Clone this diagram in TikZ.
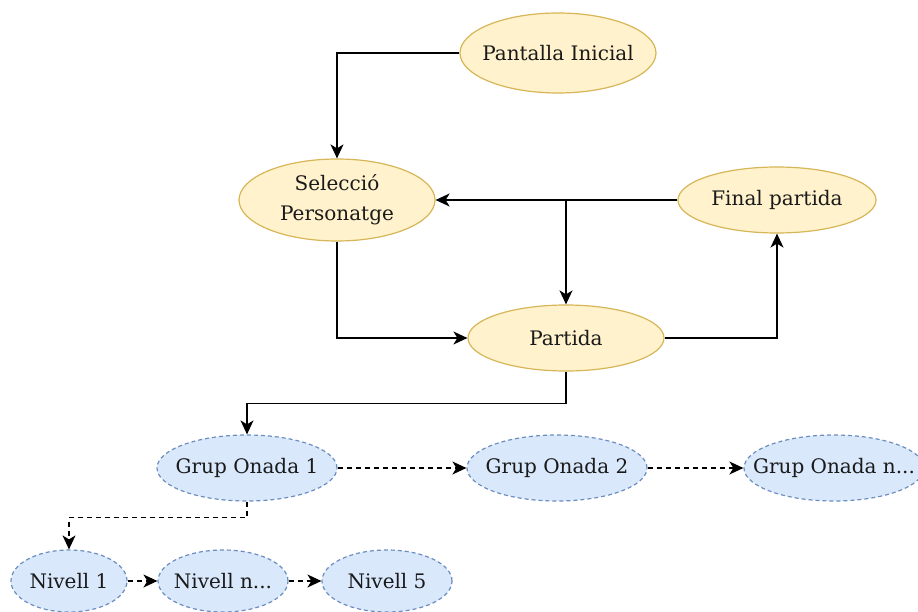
\documentclass[tikz,border=0pt]{standalone}
\usepackage{fontspec}
\setmainfont{DejaVu Serif}
\usetikzlibrary{shapes.geometric,arrows.meta}
\definecolor{yfill}{HTML}{FFF2CC}
\definecolor{ydraw}{HTML}{D6B656}
\definecolor{bfill}{HTML}{DAE8FC}
\definecolor{bdraw}{HTML}{6C8EBF}
\definecolor{ink}{HTML}{1A1A1A}
\begin{document}
\begin{tikzpicture}[x=1pt,y=-1pt,
  every label/.style={font=\fontsize{20}{30}\selectfont, text=ink},
  yel/.style={ellipse, draw=ydraw, fill=yfill, line width=1.2pt, inner sep=0pt},
  blu/.style={ellipse, draw=bdraw, fill=bfill, line width=1.2pt, dash pattern=on 4pt off 3pt, inner sep=0pt},
  tip/.style={-{Stealth[length=14pt,width=13pt,inset=4pt]}},
  link/.style={line width=1.5pt, tip},
  dlink/.style={link, dash pattern=on 5pt off 4pt}]
\useasboundingbox (0,0) rectangle (918,612);
\clip (0,0) rectangle (918,612);

% game screens
\node[yel, minimum width=196pt, minimum height=80pt, label=center:{Pantalla Inicial}] (pi) at (558,53) {};
\node[yel, minimum width=196pt, minimum height=82pt, label={[align=center]center:{Selecció\\Personatge}}] (sel) at (337,200) {};
\node[yel, minimum width=198pt, minimum height=66pt, label=center:{Final partida}] (fin) at (777,200) {};
\node[yel, minimum width=196pt, minimum height=66pt, label=center:{Partida}] (par) at (566,338) {};

% wave groups
\node[blu, minimum width=180pt, minimum height=66pt, label=center:{Grup Onada 1}] (g1) at (247,468) {};
\node[blu, minimum width=180pt, minimum height=66pt, label=center:{Grup Onada 2}] (g2) at (557,468) {};
\node[blu, minimum width=180pt, minimum height=66pt, label=center:{Grup Onada n...}] (gn) at (834,468) {};

% levels
\node[blu, minimum width=116pt, minimum height=62pt, label=center:{Nivell 1}] (n1) at (69,581) {};
\node[blu, minimum width=130pt, minimum height=62pt, label=center:{Nivell n...}] (nn) at (223,581) {};
\node[blu, minimum width=130pt, minimum height=62pt, label=center:{Nivell 5}] (n5) at (387,581) {};

% flow between screens
\draw[link] (pi.west) -| (sel.north);
\draw[link] (fin.west) -- (sel.east);
\draw[link] (fin.west) -| (par.north);
\draw[link] (sel.south) |- (par.west);
\draw[link] (par.east) -| (fin.south);
\draw[link] (par.south) -- ++(0,32) -| (g1.north);

% waves and levels
\draw[dlink] (g1) -- (g2);
\draw[dlink] (g2) -- (gn);
\draw[dlink] (g1.south) -- ++(0,16) -| (n1.north);
\draw[dlink] (n1) -- (nn);
\draw[dlink] (nn) -- (n5);
\end{tikzpicture}
\end{document}
